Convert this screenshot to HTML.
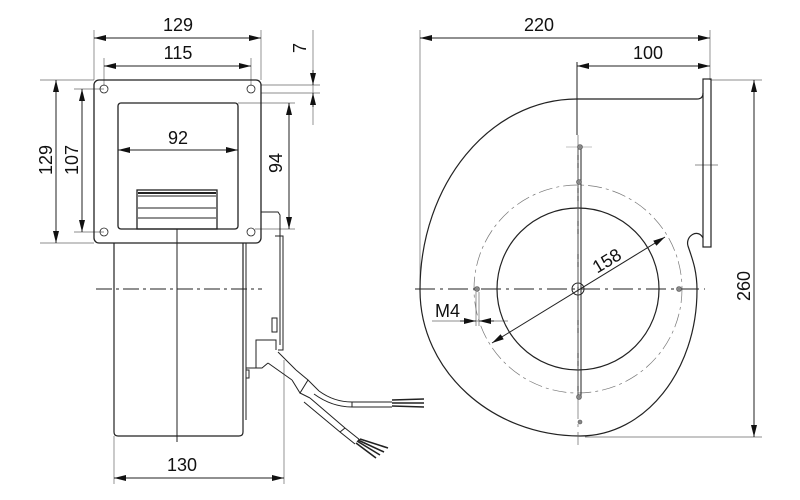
<!DOCTYPE html>
<html><head><meta charset="utf-8"><style>
html,body{margin:0;padding:0;background:#fff;}
svg{display:block;}
text{font-family:"Liberation Sans",sans-serif;font-size:18px;fill:#111;}
</style></head><body>
<svg width="800" height="500" viewBox="0 0 800 500" xmlns="http://www.w3.org/2000/svg">
<defs>
<marker id="a" viewBox="0 0 12 6" refX="12" refY="3" markerWidth="12" markerHeight="6" orient="auto-start-reverse" markerUnits="userSpaceOnUse"><path d="M0,0 L12,3 L0,6 z" fill="#111"/></marker>
</defs>
<g fill="none" stroke="#222" stroke-width="1">

<!-- LEFT VIEW dims -->
<g stroke="#666" stroke-width="0.7">
<line x1="94" y1="30" x2="94" y2="80"/><line x1="261" y1="30" x2="261" y2="80"/>
<line x1="104" y1="58" x2="104" y2="86"/><line x1="251" y1="58" x2="251" y2="86"/>
<line x1="40" y1="80" x2="94" y2="80"/><line x1="40" y1="243" x2="94" y2="243"/>
<line x1="74" y1="89" x2="104" y2="89"/><line x1="74" y1="232" x2="104" y2="232"/>
<line x1="238" y1="103" x2="295" y2="103"/><line x1="255" y1="229" x2="295" y2="229"/>
<line x1="261" y1="85" x2="320" y2="85"/><line x1="261" y1="93" x2="320" y2="93"/>
<line x1="313" y1="30" x2="313" y2="125"/>
<line x1="114" y1="436" x2="114" y2="484"/><line x1="284" y1="360" x2="284" y2="484"/>
</g>
<line x1="94" y1="38" x2="261" y2="38" marker-start="url(#a)" marker-end="url(#a)"/>
<line x1="104" y1="66" x2="251" y2="66" marker-start="url(#a)" marker-end="url(#a)"/>
<line x1="118" y1="150" x2="238" y2="150" marker-start="url(#a)" marker-end="url(#a)"/>
<line x1="56" y1="80" x2="56" y2="243" marker-start="url(#a)" marker-end="url(#a)"/>
<line x1="82" y1="89" x2="82" y2="232" marker-start="url(#a)" marker-end="url(#a)"/>
<line x1="289" y1="103" x2="289" y2="229" marker-start="url(#a)" marker-end="url(#a)"/>
<line x1="313" y1="70" x2="313" y2="85" marker-end="url(#a)"/>
<line x1="313" y1="107" x2="313" y2="93" marker-end="url(#a)"/>
<line x1="114" y1="478" x2="284" y2="478" marker-start="url(#a)" marker-end="url(#a)"/>

<!-- flange -->
<rect x="94" y="80" width="167" height="163" rx="5" stroke-width="1.3"/>
<rect x="118" y="103" width="120" height="126" rx="3" stroke-width="1.3"/>
<g stroke-width="0.8">
<circle cx="104" cy="89" r="4"/><circle cx="251" cy="89" r="4"/><circle cx="104" cy="232" r="4"/><circle cx="251" cy="232" r="4"/>
</g>
<rect x="137" y="190" width="80" height="39" stroke-width="1.3"/>
<line x1="138" y1="193" x2="216" y2="193" stroke-width="2"/>
<line x1="138" y1="196" x2="216" y2="196"/><line x1="138" y1="208" x2="216" y2="208"/><line x1="138" y1="218" x2="216" y2="218"/>
<!-- motor -->
<path d="M114,243 L114,432 Q114,436 118,436 L239,436 Q243,436 243,432 L243,243" stroke-width="1.2"/>
<line x1="243" y1="243" x2="246" y2="243"/>
<line x1="246" y1="243" x2="246" y2="420"/>
<line x1="177" y1="229" x2="177" y2="442"/>
<line x1="96" y1="289" x2="262" y2="289" stroke-dasharray="16,4,3,4"/>
<!-- side plate -->
<path d="M261,212 L278,212 L280,215 L280,345"/>
<path d="M275,236 L283,236 L283,350 L278,350"/>
<line x1="246" y1="368" x2="256" y2="368"/>
<path d="M256,368 L256,340 L276,340 L276,350"/>
<path d="M256,368 L262,368 L268,363"/>
<rect x="272" y="318" width="5" height="14"/>
<rect x="246" y="370" width="3" height="8"/>
<!-- cable -->
<path d="M278,352 L296,370"/>
<path d="M268,363 L292,380"/>
<path d="M296,370 L308,380 L300,393 L292,380"/>
<path d="M308,380 L319,391"/>
<path d="M300,393 L310,398"/>
<path d="M319,391 Q334,402 352,402 L392,402"/>
<path d="M314,394 Q332,407 352,407 L392,407"/>
<line x1="352" y1="402" x2="352" y2="407"/>
<path d="M310,398 L345,428 L360,440"/>
<path d="M304,402 L340,432 L355,444"/>
<line x1="340" y1="432" x2="345" y2="428"/>
<g stroke-width="1.6"><path d="M392,400 L424,399"/><path d="M392,403 L424,403"/><path d="M392,406 L424,407"/>
<path d="M357,441 L380,455"/><path d="M358,440 L384,452"/><path d="M360,439 L388,448"/><path d="M356,443 L376,458"/></g>

<!-- RIGHT VIEW -->
<g stroke="#666" stroke-width="0.7">
<line x1="420" y1="30" x2="420" y2="290"/>
<line x1="710" y1="30" x2="710" y2="80"/>
<line x1="711" y1="80" x2="762" y2="80"/>
<line x1="585" y1="437" x2="762" y2="437"/>
<line x1="432" y1="321" x2="508" y2="321"/>
<line x1="476" y1="292" x2="476" y2="326"/><line x1="479" y1="292" x2="479" y2="326"/>
<line x1="695" y1="165" x2="718" y2="165"/>
</g>
<line x1="577" y1="62" x2="577" y2="135"/>
<line x1="420" y1="38" x2="710" y2="38" marker-start="url(#a)" marker-end="url(#a)"/>
<line x1="577" y1="66" x2="710" y2="66" marker-start="url(#a)" marker-end="url(#a)"/>
<line x1="754" y1="80" x2="754" y2="437" marker-start="url(#a)" marker-end="url(#a)"/>
<line x1="460" y1="321" x2="476" y2="321" marker-end="url(#a)"/>
<line x1="494" y1="321" x2="479" y2="321" marker-end="url(#a)"/>
<line x1="492" y1="343" x2="665" y2="237" marker-start="url(#a)" marker-end="url(#a)"/>

<rect x="703" y="79" width="8" height="168" stroke-width="1.2"/>
<path d="M577,99 L697,99 Q703,99 703,93" stroke-width="1.2"/>
<path d="M577,99 C490,99 420,184 420,290 C420,371 492,436 580,436 C645,436 697,371 697,290 C697,270 692,258 688,246 C685,236 698,228 703,238" stroke-width="1.2"/>

<circle cx="578" cy="289" r="81" stroke-width="1.2"/>
<circle cx="578" cy="289" r="104" stroke="#777" stroke-width="0.7" stroke-dasharray="14,4,3,4"/>
<circle cx="578" cy="289" r="6"/>
<line x1="578" y1="147" x2="578" y2="397"/><line x1="581" y1="147" x2="581" y2="397"/>
<line x1="415" y1="289" x2="705" y2="289" stroke-dasharray="20,5,3,5"/>
<line x1="578" y1="135" x2="578" y2="445" stroke="#666" stroke-width="0.7" stroke-dasharray="20,5,3,5"/>
<line x1="566" y1="147" x2="592" y2="147" stroke="#888" stroke-width="0.6"/>
<g fill="#888" stroke="#555" stroke-width="0.6">
<circle cx="580" cy="147" r="2.5"/><circle cx="579" cy="182" r="2.5"/><circle cx="579" cy="397" r="2.5"/><circle cx="580" cy="422" r="2"/>
<circle cx="477" cy="289" r="2.5"/><circle cx="679" cy="289" r="2.5"/>
</g>
</g>

<text x="178" y="31" text-anchor="middle">129</text>
<text x="178" y="59" text-anchor="middle">115</text>
<text x="178" y="144" text-anchor="middle">92</text>
<text transform="translate(52,160) rotate(-90)" text-anchor="middle">129</text>
<text transform="translate(78,160) rotate(-90)" text-anchor="middle">107</text>
<text transform="translate(282,163) rotate(-90)" text-anchor="middle">94</text>
<text transform="translate(306,48) rotate(-90)" text-anchor="middle">7</text>
<text x="182" y="471" text-anchor="middle">130</text>
<text x="539" y="31" text-anchor="middle">220</text>
<text x="648" y="59" text-anchor="middle">100</text>
<text transform="translate(750,286) rotate(-90)" text-anchor="middle">260</text>
<text transform="translate(610,266) rotate(-31)" text-anchor="middle">158</text>
<text x="435" y="317">M4</text>
</svg>
</body></html>
